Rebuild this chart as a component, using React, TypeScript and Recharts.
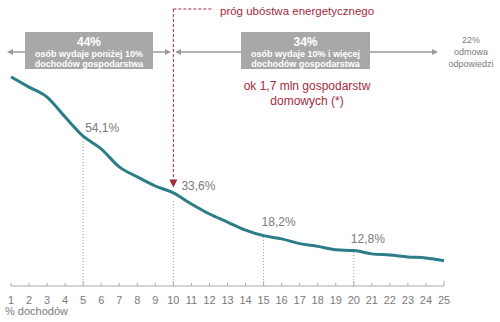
import React from 'react';
import { LineChart, Line, XAxis, YAxis, ReferenceLine, ReferenceDot } from 'recharts';

// % of income spent on energy (x) vs share of households (y)
const incomeShares = [1, 2, 3, 4, 5, 6, 7, 8, 9, 10, 11, 12, 13, 14, 15, 16, 17, 18, 19, 20, 21, 22, 23, 24, 25];
const households = [75.5, 71.8, 68.2, 61.0, 54.1, 49.5, 43.0, 39.4, 36.1, 33.6, 29.6, 26.0, 23.1, 20.2, 18.2, 17.0, 15.3, 14.3, 13.1, 12.8, 11.6, 11.2, 10.5, 10.1, 9.1];
const markedAt = [5, 10, 15, 20];
const thresholdAt = 10;

const data = incomeShares.map((x, i) => ({ x, y: households[i] }));

const TEAL = '#2c7d89';
const RED = '#a52a3a';
const GREY_TEXT = '#7a7a7a';
const BOX = '#a8a8a8';
const FONT = '"Liberation Sans", Arial, sans-serif';

// label nudges, per marked point
const labelOffset: Record<number, [number, number]> = {
  5: [2, -4],
  10: [8, -3],
  15: [-2, -10],
  20: [-3, -8],
};

function AxisTick(props: any) {
  const { x, y, payload } = props;
  const major = payload.value % 5 === 0;
  return (
    <g>
      <line x1={x} x2={x} y1={y} y2={y - (major ? 5 : 3)} stroke="#aaa" strokeWidth={1} />
      <text x={x} y={y + 18} textAnchor="middle" fontSize={11} fill={GREY_TEXT} fontFamily={FONT}>
        {payload.value}
      </text>
    </g>
  );
}

function PointLabel(props: any) {
  const { x, y, index } = props;
  const d = data[index];
  if (!markedAt.includes(d.x)) return null;
  const [dx, dy] = labelOffset[d.x];
  return (
    <text x={x + dx} y={y + dy} fontSize={12} fill={GREY_TEXT} fontFamily={FONT}>
      {d.y.toFixed(1).replace('.', ',')}%
    </text>
  );
}

function DownArrow(props: any) {
  const { cx, cy } = props;
  return <path d={`M${cx - 4},${cy - 4} L${cx + 4},${cy - 4} L${cx},${cy + 4} Z`} fill={RED} />;
}

function Header() {
  const arrow = '#9a9a9a';
  return (
    <svg width={500} height={110} style={{ position: 'absolute', left: 0, top: 0, pointerEvents: 'none' }}>
      <text x={220} y={15} fontSize={11.5} fill={RED} fontFamily={FONT}>próg ubóstwa energetycznego</text>

      {/* left block */}
      <line x1={12} x2={25} y1={52} y2={52} stroke={arrow} strokeWidth={1.5} />
      <path d="M7,52 L13,49 L13,55 Z" fill={arrow} />
      <rect x={25} y={32} width={128} height={37} fill={BOX} />
      <text x={89} y={46} textAnchor="middle" fontSize={12} fontWeight="bold" fill="#fff" fontFamily={FONT}>44%</text>
      <text x={89} y={57} textAnchor="middle" fontSize={9} fontWeight="bold" fill="#fff" fontFamily={FONT}>osób wydaje poniżej 10%</text>
      <text x={89} y={67} textAnchor="middle" fontSize={9} fontWeight="bold" fill="#fff" fontFamily={FONT}>dochodów gospodarstwa</text>
      <line x1={153} x2={166} y1={52} y2={52} stroke={arrow} strokeWidth={1.5} />
      <path d="M171,52 L165,49 L165,55 Z" fill={arrow} />

      {/* right block */}
      <path d="M175,52 L181,49 L181,55 Z" fill={arrow} />
      <line x1={180} x2={241} y1={52} y2={52} stroke={arrow} strokeWidth={1.5} />
      <rect x={241} y={32} width={129} height={37} fill={BOX} />
      <text x={305.5} y={46} textAnchor="middle" fontSize={12} fontWeight="bold" fill="#fff" fontFamily={FONT}>34%</text>
      <text x={305.5} y={57} textAnchor="middle" fontSize={9} fontWeight="bold" fill="#fff" fontFamily={FONT}>osób wydaje 10% i więcej</text>
      <text x={305.5} y={67} textAnchor="middle" fontSize={9} fontWeight="bold" fill="#fff" fontFamily={FONT}>dochodów gospodarstwa</text>
      <line x1={370} x2={433} y1={52} y2={52} stroke={arrow} strokeWidth={1.5} />
      <path d="M438,52 L432,49 L432,55 Z" fill={arrow} />

      <text x={471} y={43} textAnchor="middle" fontSize={9} fill={GREY_TEXT} fontFamily={FONT}>22%</text>
      <text x={471} y={55} textAnchor="middle" fontSize={9} fill={GREY_TEXT} fontFamily={FONT}>odmowa</text>
      <text x={471} y={67} textAnchor="middle" fontSize={9} fill={GREY_TEXT} fontFamily={FONT}>odpowiedzi</text>

      <text x={307} y={90} textAnchor="middle" fontSize={12} fill={RED} fontFamily={FONT}>ok 1,7 mln gospodarstw</text>
      <text x={307} y={105} textAnchor="middle" fontSize={12} fill={RED} fontFamily={FONT}>domowych (*)</text>
    </svg>
  );
}

export default function App() {
  return (
    <div style={{ position: 'absolute', left: 0, top: 0, width: 500, height: 322, background: '#fff', fontFamily: FONT }}>
      <LineChart width={500} height={322} data={data} margin={{ top: 9, right: 56, bottom: 6, left: 11 }}>
        <XAxis
          dataKey="x"
          type="number"
          domain={[1, 25]}
          ticks={incomeShares}
          interval={0}
          height={30}
          tickLine={false}
          tickSize={0}
          tickMargin={0}
          stroke="#aaa"
          tick={<AxisTick />}
        />
        <YAxis hide width={0} domain={[0, 100]} />
        {markedAt.map((m) => (
          <ReferenceLine
            key={m}
            segment={[{ x: m, y: 0 }, { x: m, y: households[incomeShares.indexOf(m)] - (m === thresholdAt ? 2.5 : 0) }]}
            stroke="#999"
            strokeWidth={1}
            strokeDasharray="1 2"
          />
        ))}
        <ReferenceLine
          segment={[{ x: thresholdAt, y: 100 }, { x: thresholdAt, y: 38.5 }]}
          stroke={RED}
          strokeWidth={1}
          strokeDasharray="3 2"
          ifOverflow="visible"
        />
        <ReferenceLine
          segment={[{ x: thresholdAt, y: 100 }, { x: 12.2, y: 100 }]}
          stroke={RED}
          strokeWidth={1}
          strokeDasharray="3 2"
          ifOverflow="visible"
        />
        <ReferenceDot x={thresholdAt} y={37} shape={<DownArrow />} ifOverflow="visible" />
        <Line
          type="monotone"
          dataKey="y"
          stroke={TEAL}
          strokeWidth={3}
          dot={false}
          activeDot={false}
          isAnimationActive={false}
          label={<PointLabel />}
        />
      </LineChart>
      <div style={{ position: 'absolute', left: 5, top: 305, fontSize: 11, color: GREY_TEXT }}>% dochodów</div>
      <Header />
    </div>
  );
}
